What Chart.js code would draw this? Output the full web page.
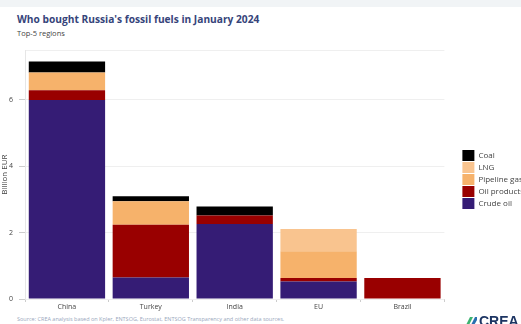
<!DOCTYPE html>
<html>
<head>
<meta charset="utf-8">
<script src="https://cdn.jsdelivr.net/npm/chart.js@4/dist/chart.umd.min.js"></script>
<style>
  html, body { margin: 0; padding: 0; width: 521px; height: 324px; overflow: hidden; background: #fff; font-family: "Open Sans", sans-serif; }
  .band { position: absolute; left: 0; top: 0; width: 521px; height: 7px; background: #f1f4f6; }
  .title { position: absolute; left: 17px; top: 12px; font-size: 10.2px; font-weight: 700; color: #36447a; white-space: nowrap; }
  .subtitle { position: absolute; left: 17px; top: 28px; font-size: 7.5px; color: #444; white-space: nowrap; }
  .chart { position: absolute; left: 0; top: 40px; width: 534px; height: 275px; }
  .source { position: absolute; left: 17px; top: 315px; font-size: 5.5px; color: #9aa7bd; white-space: nowrap; }
  .logo { position: absolute; left: 465px; top: 313px; white-space: nowrap; font-family: "Liberation Sans", Arial, sans-serif; font-weight: 700; font-size: 14px; color: #1d3563; }
  .logo svg { vertical-align: -1px; margin-right: 2px; }
</style>
</head>
<body>
<div class="band"></div>
<div class="title">Who bought Russia's fossil fuels in January 2024</div>
<div class="subtitle">Top-5 regions</div>
<div class="chart"><canvas id="c"></canvas></div>
<div class="source">Source: CREA analysis based on Kpler, ENTSOG, Eurostat, ENTSOG Transparency and other data sources.</div>
<div class="logo"><svg width="12" height="10" viewBox="0 0 12 10"><path d="M0 10 L5 0 L8 0 L3 10 Z" fill="#3cb371"/><path d="M5 10 L10 0 L12 0 L12 3 L8 10 Z" fill="#2a6fb0"/></svg>CREA</div>
<script>
const regions = ['China', 'Turkey', 'India', 'EU', 'Brazil'];
const crudeOil    = [6.00, 0.65, 2.26, 0.53, 0.00];
const oilProducts = [0.29, 1.59, 0.26, 0.10, 0.63];
const pipelineGas = [0.54, 0.71, 0.00, 0.81, 0.00];
const lng         = [0.00, 0.00, 0.00, 0.67, 0.00];
const coal        = [0.33, 0.15, 0.27, 0.00, 0.00];
const yTicks = [0, 2, 4, 6];

const bar = (label, data, color) => ({
  label, data,
  backgroundColor: color,
  borderWidth: 0,
  barPercentage: 0.91,
  categoryPercentage: 1
});

new Chart(document.getElementById('c'), {
  type: 'bar',
  data: {
    labels: regions,
    datasets: [
      bar('Crude oil', crudeOil, '#351c75'),
      bar('Oil products', oilProducts, '#990000'),
      bar('Pipeline gas', pipelineGas, '#f6b26b'),
      bar('LNG', lng, '#f9c48f'),
      bar('Coal', coal, '#000000')
    ]
  },
  options: {
    responsive: true,
    maintainAspectRatio: false,
    animation: false,
    layout: { padding: { top: 4, left: 0, right: 0, bottom: 0 } },
    plugins: {
      tooltip: { enabled: false },
      legend: {
        position: 'right',
        reverse: true,
        labels: {
          boxWidth: 12, boxHeight: 11, padding: 1,
          color: '#444',
          font: { family: 'Open Sans', size: 8 }
        }
      }
    },
    scales: {
      x: {
        stacked: true,
        grid: { display: true, drawOnChartArea: false, color: 'rgba(0,0,0,0)', tickColor: '#ccc', tickLength: 3 },
        border: { display: false },
        ticks: { color: '#444', font: { family: 'Open Sans', size: 7 }, padding: 1 },
        afterFit: s => { s.height = 16; }
      },
      y: {
        stacked: true,
        min: 0, max: 7.5,
        afterBuildTicks: s => { s.ticks = yTicks.map(v => ({ value: v })).concat([{ value: 7.5 }]); },
        grid: {
          color: '#efefef',
          tickColor: ctx => ctx.tick && ctx.tick.value === 7.5 ? 'rgba(0,0,0,0)' : '#ccc',
          tickLength: 6
        },
        border: { display: true, color: '#e6e6e6' },
        ticks: {
          color: '#444', padding: 6,
          font: { family: 'Open Sans', size: 7 },
          callback: v => yTicks.includes(v) ? v : ''
        },
        title: { display: true, text: 'Billion EUR', color: '#444', font: { family: 'Open Sans', size: 8 }, padding: 0 },
        afterFit: s => { s.width = 25; }
      },
      spacer: {
        type: 'linear',
        position: 'right',
        display: true,
        grid: { display: false },
        border: { display: false },
        ticks: { display: false },
        afterFit: s => { s.width = 17; }
      }
    }
  }
});
</script>
</body>
</html>
